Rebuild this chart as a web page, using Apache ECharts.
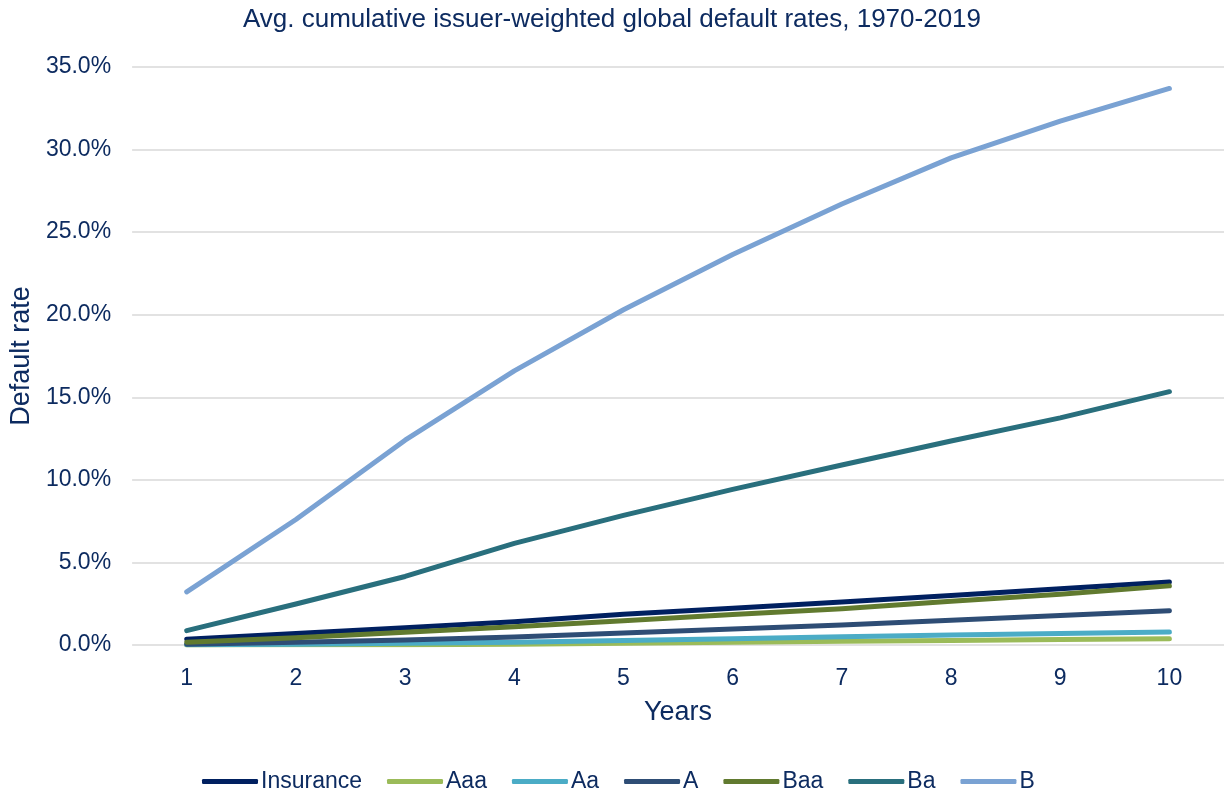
<!DOCTYPE html>
<html>
<head>
<meta charset="utf-8">
<script src="https://cdn.jsdelivr.net/npm/echarts@6/dist/echarts.min.js"></script>
<style>html,body{margin:0;padding:0;background:#fff;}#c{width:1224px;height:792px;}</style>
</head>
<body>
<div id="c"></div>
<script>
const years = ['1','2','3','4','5','6','7','8','9','10'];
const insurance = [0.35, 0.70, 1.05, 1.41, 1.86, 2.22, 2.61, 3.00, 3.40, 3.82];
const aaa = [0.00, 0.01, 0.02, 0.05, 0.10, 0.16, 0.22, 0.28, 0.33, 0.38];
const aa = [0.02, 0.05, 0.10, 0.17, 0.27, 0.38, 0.50, 0.60, 0.69, 0.79];
const aRating = [0.05, 0.16, 0.30, 0.48, 0.72, 0.97, 1.21, 1.50, 1.78, 2.08];
const baa = [0.17, 0.44, 0.77, 1.10, 1.47, 1.84, 2.20, 2.65, 3.07, 3.58];
const ba = [0.87, 2.48, 4.15, 6.15, 7.85, 9.42, 10.90, 12.35, 13.75, 15.34];
const b = [3.22, 7.60, 12.40, 16.60, 20.30, 23.65, 26.70, 29.50, 31.72, 33.70];
const seriesNames = ['Insurance','Aaa','Aa','A','Baa','Ba','B'];
const seriesData = [insurance, aaa, aa, aRating, baa, ba, b];
const colors = ['#002060','#9BBB59','#4BACC6','#2E4D75','#617A2F','#296F7D','#7AA2D3'];
const textColor = '#0D2B60';
const font = '"Liberation Sans", Arial, sans-serif';

const chart = echarts.init(document.getElementById('c'), null, {renderer:'canvas'});
chart.setOption({
  animation: false,
  color: colors,
  title: {
    text: 'Avg. cumulative issuer-weighted global default rates, 1970-2019',
    left: 'center', top: 2,
    textStyle: {color: textColor, fontFamily: font, fontSize: 26, fontWeight: 'normal'}
  },
  legend: {
    data: seriesNames,
    top: 765, left: 197,
    itemWidth: 56, itemHeight: 5, itemGap: 25,
    icon: 'roundRect',
    textStyle: {color: textColor, fontFamily: font, fontSize: 23, padding: [0,0,0,-2]}
  },
  grid: {left: 132, top: 67, width: 1097, height: 578, containLabel: false},
  xAxis: {
    type: 'category', data: years, boundaryGap: true,
    name: 'Years', nameLocation: 'middle', nameGap: 54,
    nameTextStyle: {color: textColor, fontFamily: font, fontSize: 27},
    axisLine: {show: false}, axisTick: {show: false},
    axisLabel: {color: textColor, fontFamily: font, fontSize: 23, margin: 22}
  },
  yAxis: {
    type: 'value', min: 0, max: 35, interval: 5,
    name: 'Default rate', nameLocation: 'middle', nameGap: 96, nameRotate: 90,
    nameTextStyle: {color: textColor, fontFamily: font, fontSize: 27},
    axisLine: {show: false}, axisTick: {show: false},
    axisLabel: {color: textColor, fontFamily: font, fontSize: 23, margin: 21,
      formatter: v => v.toFixed(1) + '%'},
    splitLine: {lineStyle: {color: '#D9D9D9', width: 1.5}}
  },
  series: seriesNames.map((n, i) => ({
    name: n, type: 'line', data: seriesData[i],
    showSymbol: false, symbol: 'none',
    lineStyle: {width: 5, color: colors[i], cap: 'round', join: 'round'},
    itemStyle: {color: colors[i]}
  }))
});
</script>
</body>
</html>
